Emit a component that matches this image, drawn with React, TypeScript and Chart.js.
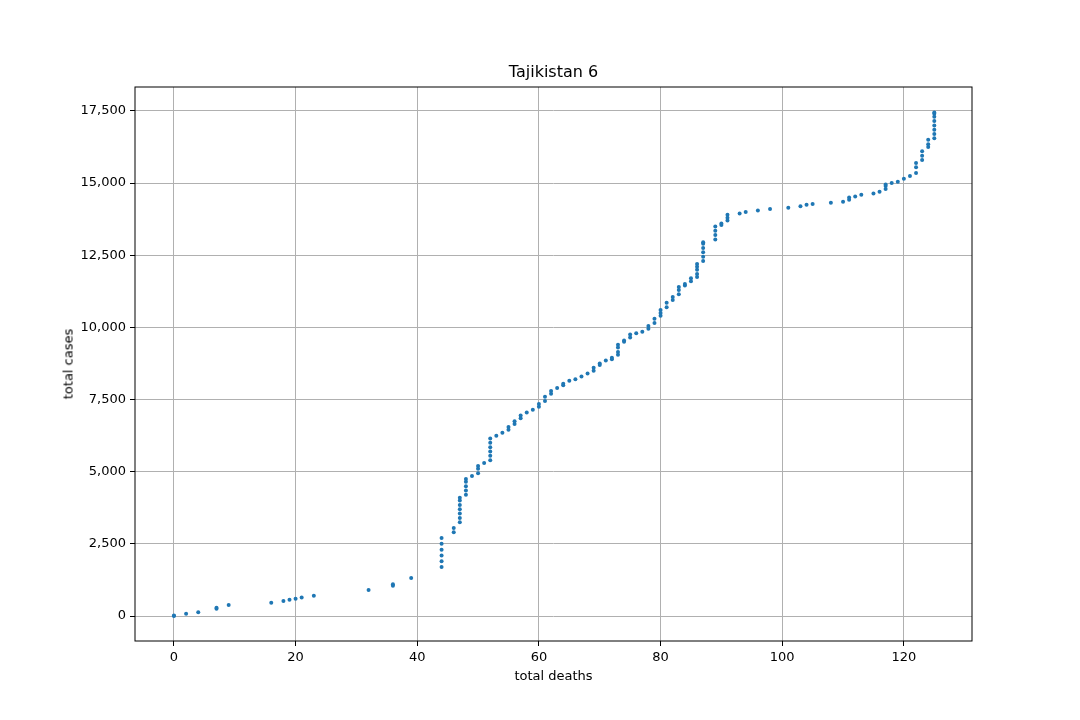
import { useEffect, useRef } from "react";
import { Chart, registerables } from "chart.js";

Chart.register(...registerables);

const deaths: number[] = [
  0, 0, 2, 4, 7, 7, 9, 16, 18, 19, 20, 21, 23, 32, 36, 36, 39,
  44, 44, 44, 44, 44, 44, 46, 46, 47, 47, 47, 47, 47, 47, 47,
  48, 48, 48, 48, 48, 49, 50, 50, 50, 51, 52, 52, 52, 52, 52, 52,
  53, 54, 55, 55, 56, 56, 57, 57, 58, 59, 60, 60, 61, 61, 62, 62,
  63, 64, 64, 65, 66, 67, 68, 69, 69, 70, 70, 71, 72, 72, 73, 73, 73, 73,
  74, 74, 75, 75, 76, 77, 78, 78, 79, 79, 80, 80, 80, 81, 81, 82, 82,
  83, 83, 83, 84, 84, 85, 85, 86, 86, 86, 86, 86, 87, 87, 87, 87, 87, 87,
  89, 89, 89, 89, 90, 90, 91, 91, 91, 93, 94, 96, 98, 101, 103, 104, 105,
  108, 110, 111, 111, 112, 113, 115, 116, 117, 117, 117, 118, 119, 120, 121,
  122, 122, 122, 123, 123, 123, 124, 124, 124,
  125, 125, 125, 125, 125, 125, 125, 125,
];

const cases: number[] = [
  0, 20, 80, 130, 250, 290, 380, 460, 520, 560, 600, 640, 700, 900, 1050, 1100, 1320,
  1700, 1900, 2100, 2300, 2500, 2700, 2900, 3050, 3250, 3400, 3550, 3700, 3850, 4000, 4100,
  4200, 4350, 4500, 4650, 4750, 4850, 4950, 5100, 5200, 5300, 5400, 5550, 5700, 5850, 6000, 6150,
  6250, 6350, 6450, 6550, 6650, 6750, 6850, 6950, 7050, 7150, 7250, 7350, 7450, 7600, 7700, 7800,
  7900, 8000, 8050, 8150, 8200, 8300, 8400, 8500, 8600, 8700, 8750, 8850, 8900, 8950, 9050, 9150, 9300, 9400,
  9500, 9550, 9650, 9750, 9800, 9850, 9950, 10050, 10150, 10300, 10400, 10500, 10600, 10700, 10850, 10950, 11050,
  11150, 11300, 11400, 11450, 11500, 11600, 11700, 11750, 11850, 12000, 12100, 12200, 12300, 12450, 12600, 12750, 12900, 12950,
  13050, 13200, 13350, 13500, 13550, 13600, 13700, 13800, 13900, 13950, 14000, 14050, 14100, 14150, 14200, 14250, 14280,
  14320, 14350, 14420, 14500, 14540, 14600, 14640, 14700, 14800, 14900, 14950, 15000, 15050, 15150, 15250,
  15350, 15550, 15700, 15800, 15950, 16100, 16250, 16350, 16500,
  16550, 16700, 16850, 17000, 17150, 17300, 17400, 17450,
];

const frame = {
  id: "frame",
  afterDraw(chart: Chart) {
    const { ctx, chartArea: a } = chart;
    ctx.save();
    ctx.strokeStyle = "#000";
    ctx.lineWidth = 1;
    ctx.strokeRect(a.left, a.top, a.right - a.left, a.bottom - a.top);
    ctx.restore();
  },
};

export default function App() {
  const ref = useRef<HTMLCanvasElement>(null);

  useEffect(() => {
    if (!ref.current) return;
    const font = { family: "DejaVu Sans", size: 13 };
    const chart = new Chart(ref.current, {
      type: "scatter",
      data: {
        datasets: [
          {
            data: deaths.map((d, i) => ({ x: d, y: cases[i] })),
            backgroundColor: "#1f77b4",
            borderWidth: 0,
            pointRadius: 2,
          },
        ],
      },
      options: {
        animation: false,
        responsive: false,
        layout: { padding: { top: 87, right: 108, left: 0, bottom: 0 } },
        plugins: { legend: { display: false }, tooltip: { enabled: false } },
        scales: {
          x: {
            type: "linear",
            min: -6.4,
            max: 131.2,
            afterFit: (s: any) => { s.height = 79; },
            afterBuildTicks: (s: any) => {
              s.ticks = [0, 20, 40, 60, 80, 100, 120].map((v) => ({ value: v }));
            },
            ticks: { color: "#000", font, padding: 4 },
            grid: { color: "#b0b0b0", tickColor: "#000", tickLength: 5 },
            border: { display: false },
          },
          y: {
            type: "linear",
            min: -866,
            max: 18330,
            afterFit: (s: any) => { s.width = 135; },
            afterBuildTicks: (s: any) => {
              s.ticks = [0, 2500, 5000, 7500, 10000, 12500, 15000, 17500].map((v) => ({ value: v }));
            },
            ticks: { color: "#000", font, padding: 4 },
            grid: { color: "#b0b0b0", tickColor: "#000", tickLength: 5 },
            border: { display: false },
          },
        },
      },
      plugins: [frame],
    });
    return () => chart.destroy();
  }, []);

  const text = { position: "absolute" as const, fontFamily: "DejaVu Sans", color: "#000" };

  return (
    <div style={{ position: "absolute", left: 0, top: 0, width: 1080, height: 720, background: "#fff" }}>
      <canvas ref={ref} width={1080} height={720} />
      <div style={{ ...text, left: 0, width: 1107, top: 62, textAlign: "center", fontSize: 16 }}>Tajikistan 6</div>
      <div style={{ ...text, left: 135, width: 837, top: 668, textAlign: "center", fontSize: 13 }}>total deaths</div>
      <div
        style={{
          ...text, left: 68, top: 364, fontSize: 13, whiteSpace: "nowrap",
          transform: "translate(-50%, -50%) rotate(-90deg)",
        }}
      >
        total cases
      </div>
    </div>
  );
}
